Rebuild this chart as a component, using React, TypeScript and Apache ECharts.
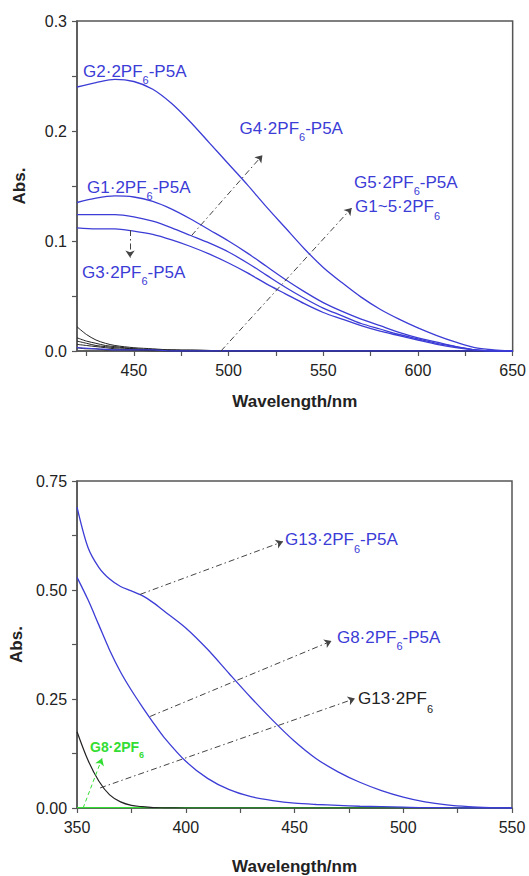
import React, { useEffect, useRef } from "react";
import * as echarts from "echarts";

// ---------- top panel data ----------
const topWl = [420, 430, 440, 450, 460, 470, 480, 490, 500, 510, 520, 530, 540, 550, 560, 570, 580, 590, 600, 610, 620, 630, 640, 650];
const topG2P5A = [0.240, 0.244, 0.247, 0.245, 0.238, 0.225, 0.208, 0.189, 0.170, 0.151, 0.131, 0.112, 0.093, 0.076, 0.062, 0.049, 0.038, 0.029, 0.021, 0.014, 0.008, 0.003, 0.001, 0.0];
const topG1P5A = [0.135, 0.139, 0.141, 0.140, 0.136, 0.129, 0.120, 0.110, 0.100, 0.089, 0.077, 0.065, 0.054, 0.044, 0.036, 0.029, 0.023, 0.017, 0.012, 0.008, 0.004, 0.001, 0.0, 0.0];
const topG4P5A = [0.124, 0.124, 0.124, 0.122, 0.118, 0.112, 0.105, 0.098, 0.090, 0.080, 0.069, 0.058, 0.048, 0.039, 0.032, 0.025, 0.020, 0.015, 0.011, 0.007, 0.004, 0.001, 0.0, 0.0];
const topG3P5A = [0.112, 0.111, 0.111, 0.109, 0.106, 0.101, 0.095, 0.088, 0.080, 0.071, 0.061, 0.052, 0.043, 0.035, 0.029, 0.023, 0.018, 0.014, 0.010, 0.006, 0.003, 0.001, 0.0, 0.0];
const topG5P5A = [0.003, 0.002, 0.001, 0.001, 0.001, 0.0, 0.0, 0.0, 0.0, 0.0, 0.0, 0.0, 0.0, 0.0, 0.0, 0.0, 0.0, 0.0, 0.0, 0.0, 0.0, 0.0, 0.0, 0.0];
const topGuestWl = [420, 425, 430, 435, 440, 450, 460, 470, 480, 500, 550, 600, 650];
const topGuests = [
  [0.022, 0.015, 0.010, 0.007, 0.005, 0.003, 0.002, 0.001, 0.001, 0.0, 0.0, 0.0, 0.0],
  [0.012, 0.009, 0.007, 0.005, 0.004, 0.002, 0.001, 0.001, 0.0, 0.0, 0.0, 0.0, 0.0],
  [0.009, 0.007, 0.005, 0.004, 0.003, 0.002, 0.001, 0.0, 0.0, 0.0, 0.0, 0.0, 0.0],
  [0.006, 0.005, 0.004, 0.003, 0.002, 0.001, 0.001, 0.0, 0.0, 0.0, 0.0, 0.0, 0.0],
  [0.003, 0.002, 0.002, 0.001, 0.001, 0.001, 0.0, 0.0, 0.0, 0.0, 0.0, 0.0, 0.0],
];
const topXTicks = [425, 450, 475, 500, 525, 550, 575, 600, 625, 650];
const topXLabels = [450, 500, 550, 600, 650];
const topYTicks = [0, 0.05, 0.1, 0.15, 0.2, 0.25, 0.3];
const topYLabels = [0, 0.1, 0.2, 0.3];

// ---------- bottom panel data ----------
const botWl = [350, 355, 360, 365, 370, 375, 380, 385, 390, 400, 410, 420, 430, 440, 450, 460, 470, 480, 490, 500, 510, 520, 530, 540, 550];
const botG13P5A = [0.690, 0.598, 0.552, 0.525, 0.508, 0.498, 0.487, 0.471, 0.452, 0.413, 0.364, 0.308, 0.253, 0.201, 0.153, 0.113, 0.083, 0.059, 0.040, 0.025, 0.014, 0.007, 0.003, 0.001, 0.0];
const botG8P5A = [0.529, 0.478, 0.420, 0.362, 0.312, 0.270, 0.232, 0.196, 0.162, 0.107, 0.068, 0.042, 0.026, 0.017, 0.011, 0.008, 0.006, 0.004, 0.003, 0.002, 0.001, 0.001, 0.0, 0.0, 0.0];
const botG13 = [0.175, 0.110, 0.062, 0.030, 0.014, 0.006, 0.003, 0.001, 0.0005, 0.0, 0.0, 0.0, 0.0, 0.0, 0.0, 0.0, 0.0, 0.0, 0.0, 0.0, 0.0, 0.0, 0.0, 0.0, 0.0];
const botG8 = [0.001, 0.001, 0.001, 0.001, 0.001, 0.001, 0.001, 0.001, 0.001, 0.001, 0.001, 0.001, 0.001, 0.001, 0.001, 0.001, 0.001, 0.001, 0.001, 0.001, 0.001, 0.001, 0.001, 0.001, 0.001];
const botXTicks = [350, 375, 400, 425, 450, 475, 500, 525, 550];
const botXLabels = [350, 400, 450, 500, 550];
const botYTicks = [0, 0.125, 0.25, 0.375, 0.5, 0.625, 0.75];
const botYLabels = [0, 0.25, 0.5, 0.75];

// ---------- annotations (data coordinates of left-middle of text) ----------
// [x, y, main, sub, tail, style]
const topLabels: [number, number, string, string, string, string][] = [
  [423.2, 0.2545, "G2·2PF", "6", "-P5A", "b"],
  [505.8, 0.2027, "G4·2PF", "6", "-P5A", "b"],
  [425.3, 0.149, "G1·2PF", "6", "-P5A", "b"],
  [422.6, 0.0718, "G3·2PF", "6", "-P5A", "b"],
  [566.3, 0.1536, "G5·2PF", "6", "-P5A", "b"],
  [566.8, 0.131, "G1~5·2PF", "6", "", "b"],
];
const botLabels: [number, number, string, string, string, string][] = [
  [445.6, 0.615, "G13·2PF", "6", "-P5A", "b"],
  [469.5, 0.392, "G8·2PF", "6", "-P5A", "b"],
  [479.2, 0.251, "G13·2PF", "6", "", "k"],
  [356.0, 0.141, "G8·2PF", "6", "", "g"],
];
// arrows: [x1, y1, x2, y2]
const topArrows = [
  [480.5, 0.105, 517.9, 0.178],
  [448, 0.110, 448, 0.085],
  [496, 0.0, 565, 0.130],
];
const botArrows = [
  [379, 0.49, 444.7, 0.611],
  [383.6, 0.21, 467, 0.383],
  [360.6, 0.046, 477.8, 0.251],
];
const botGreenArrow = [352.8, 0.0, 361.5, 0.114];

const BLUE = "#3c3cd6";
const BLACK = "#222";
const GREEN = "#33dd33";
const AXIS = "#555";
const FONT = "'Liberation Sans', Arial, sans-serif";

const zip = (xs: number[], ys: number[]) => xs.map((x, i) => [x, ys[i]]);

const labelStyles: Record<string, { color: string; size: number; subSize: number; weight: string; subDy: number }> = {
  b: { color: BLUE, size: 17, subSize: 11, weight: "normal", subDy: 9 },
  k: { color: BLACK, size: 17, subSize: 11, weight: "normal", subDy: 10 },
  g: { color: GREEN, size: 14, subSize: 9, weight: "bold", subDy: 8 },
};

function arrowSeries(arrows: number[][], idx: number, color: string, type: any) {
  return {
    type: "line",
    xAxisIndex: idx,
    yAxisIndex: idx,
    data: [],
    silent: true,
    markLine: {
      silent: true,
      symbol: ["none", "arrow"],
      symbolSize: 7,
      label: { show: false },
      lineStyle: { color, width: 1, type },
      data: arrows.map(([x1, y1, x2, y2]) => [{ coord: [x1, y1] }, { coord: [x2, y2] }]),
    },
  };
}

function curve(xs: number[], ys: number[], idx: number, color: string, width = 1.3) {
  return {
    type: "line",
    xAxisIndex: idx,
    yAxisIndex: idx,
    data: zip(xs, ys),
    showSymbol: false,
    smooth: 0.3,
    silent: true,
    lineStyle: { color, width },
  };
}

function xAxis(idx: number, min: number, max: number, ticks: number[], labels: number[], gap: number) {
  return {
    type: "value",
    gridIndex: idx,
    min,
    max,
    axisLine: { show: true, onZero: false, lineStyle: { color: AXIS, width: 1.5 } },
    axisTick: { show: true, inside: false, length: 5, customValues: ticks, lineStyle: { color: AXIS, width: 1.2 } },
    axisLabel: { customValues: labels, margin: 11, fontSize: 16, color: BLACK, fontFamily: FONT },
    splitLine: { show: false },
    name: "Wavelength/nm",
    nameLocation: "middle",
    nameGap: gap,
    nameTextStyle: { fontSize: 17, fontWeight: "bold", color: BLACK, fontFamily: FONT },
  };
}

function yAxis(idx: number, min: number, max: number, ticks: number[], labels: number[], digits: number) {
  return {
    type: "value",
    gridIndex: idx,
    min,
    max,
    axisLine: { show: true, onZero: false, lineStyle: { color: AXIS, width: 1.5 } },
    axisTick: { show: true, inside: false, length: 5, customValues: ticks, lineStyle: { color: AXIS, width: 1.2 } },
    axisLabel: {
      customValues: labels,
      margin: 10,
      fontSize: 16,
      color: BLACK,
      fontFamily: FONT,
      formatter: (v: number) => v.toFixed(digits),
    },
    splitLine: { show: false },
    name: "Abs.",
    nameLocation: "middle",
    nameGap: 49,
    nameRotate: 90,
    nameTextStyle: { fontSize: 17, fontWeight: "bold", color: BLACK, fontFamily: FONT },
  };
}

export default function App() {
  const ref = useRef<HTMLDivElement>(null);
  useEffect(() => {
    if (!ref.current) return;
    const chart = echarts.init(ref.current, null, { renderer: "svg" });
    const option: any = {
      animation: false,
      backgroundColor: "#fff",
      textStyle: { fontFamily: FONT },
      grid: [
        { left: 77, top: 21, width: 436, height: 330, show: true, borderColor: AXIS, borderWidth: 1.5 },
        { left: 77, top: 481, width: 435, height: 329, show: true, borderColor: AXIS, borderWidth: 1.5 },
      ],
      xAxis: [
        xAxis(0, 420, 650, topXTicks, topXLabels, 42),
        xAxis(1, 350, 550, botXTicks, botXLabels, 50),
      ],
      yAxis: [
        yAxis(0, 0, 0.3, topYTicks, topYLabels, 1),
        yAxis(1, 0, 0.75, botYTicks, botYLabels, 2),
      ],
      series: [
        ...topGuests.map((g) => curve(topGuestWl, g, 0, BLACK, 1)),
        curve(topWl, topG5P5A, 0, BLUE),
        curve(topWl, topG2P5A, 0, BLUE),
        curve(topWl, topG1P5A, 0, BLUE),
        curve(topWl, topG4P5A, 0, BLUE),
        curve(topWl, topG3P5A, 0, BLUE),
        arrowSeries(topArrows, 0, "#444", [6, 3, 1.5, 3]),
        curve(botWl, botG8, 1, GREEN, 1.3),
        curve(botWl, botG13, 1, BLACK, 1.2),
        curve(botWl, botG8P5A, 1, BLUE),
        curve(botWl, botG13P5A, 1, BLUE),
        arrowSeries(botArrows, 1, "#444", [6, 3, 1.5, 3]),
        arrowSeries([botGreenArrow], 1, GREEN, [4, 3]),
      ],
    };
    chart.setOption(option);

    // annotation texts with subscripts, anchored at data coordinates
    const ctx = document.createElement("canvas").getContext("2d");
    const measure = (t: string, size: number, weight: string) => {
      if (!ctx) return t.length * size * 0.55;
      ctx.font = `${weight} ${size}px ${FONT}`;
      return ctx.measureText(t).width;
    };
    const elements: any[] = [];
    const addLabels = (labels: typeof topLabels, gridIndex: number) => {
      labels.forEach(([x, y, m, s, t, st]) => {
        const ls = labelStyles[st];
        const p = chart.convertToPixel({ gridIndex }, [x, y]) as number[];
        const mw = measure(m, ls.size, ls.weight);
        const sw = measure(s, ls.subSize, ls.weight);
        const base = { fill: ls.color, fontFamily: FONT, fontWeight: ls.weight, verticalAlign: "middle", align: "left" };
        elements.push({ type: "text", x: p[0], y: p[1], silent: true, z: 100, style: { ...base, text: m, fontSize: ls.size } });
        elements.push({ type: "text", x: p[0] + mw, y: p[1] + ls.subDy, silent: true, z: 100, style: { ...base, text: s, fontSize: ls.subSize } });
        if (t) {
          elements.push({ type: "text", x: p[0] + mw + sw, y: p[1], silent: true, z: 100, style: { ...base, text: t, fontSize: ls.size } });
        }
      });
    };
    addLabels(topLabels, 0);
    addLabels(botLabels, 1);
    chart.setOption({ graphic: elements });

    return () => chart.dispose();
  }, []);
  return (
    <div
      ref={ref}
      style={{ position: "absolute", left: 0, top: 0, width: 529, height: 876, background: "#fff" }}
    />
  );
}
